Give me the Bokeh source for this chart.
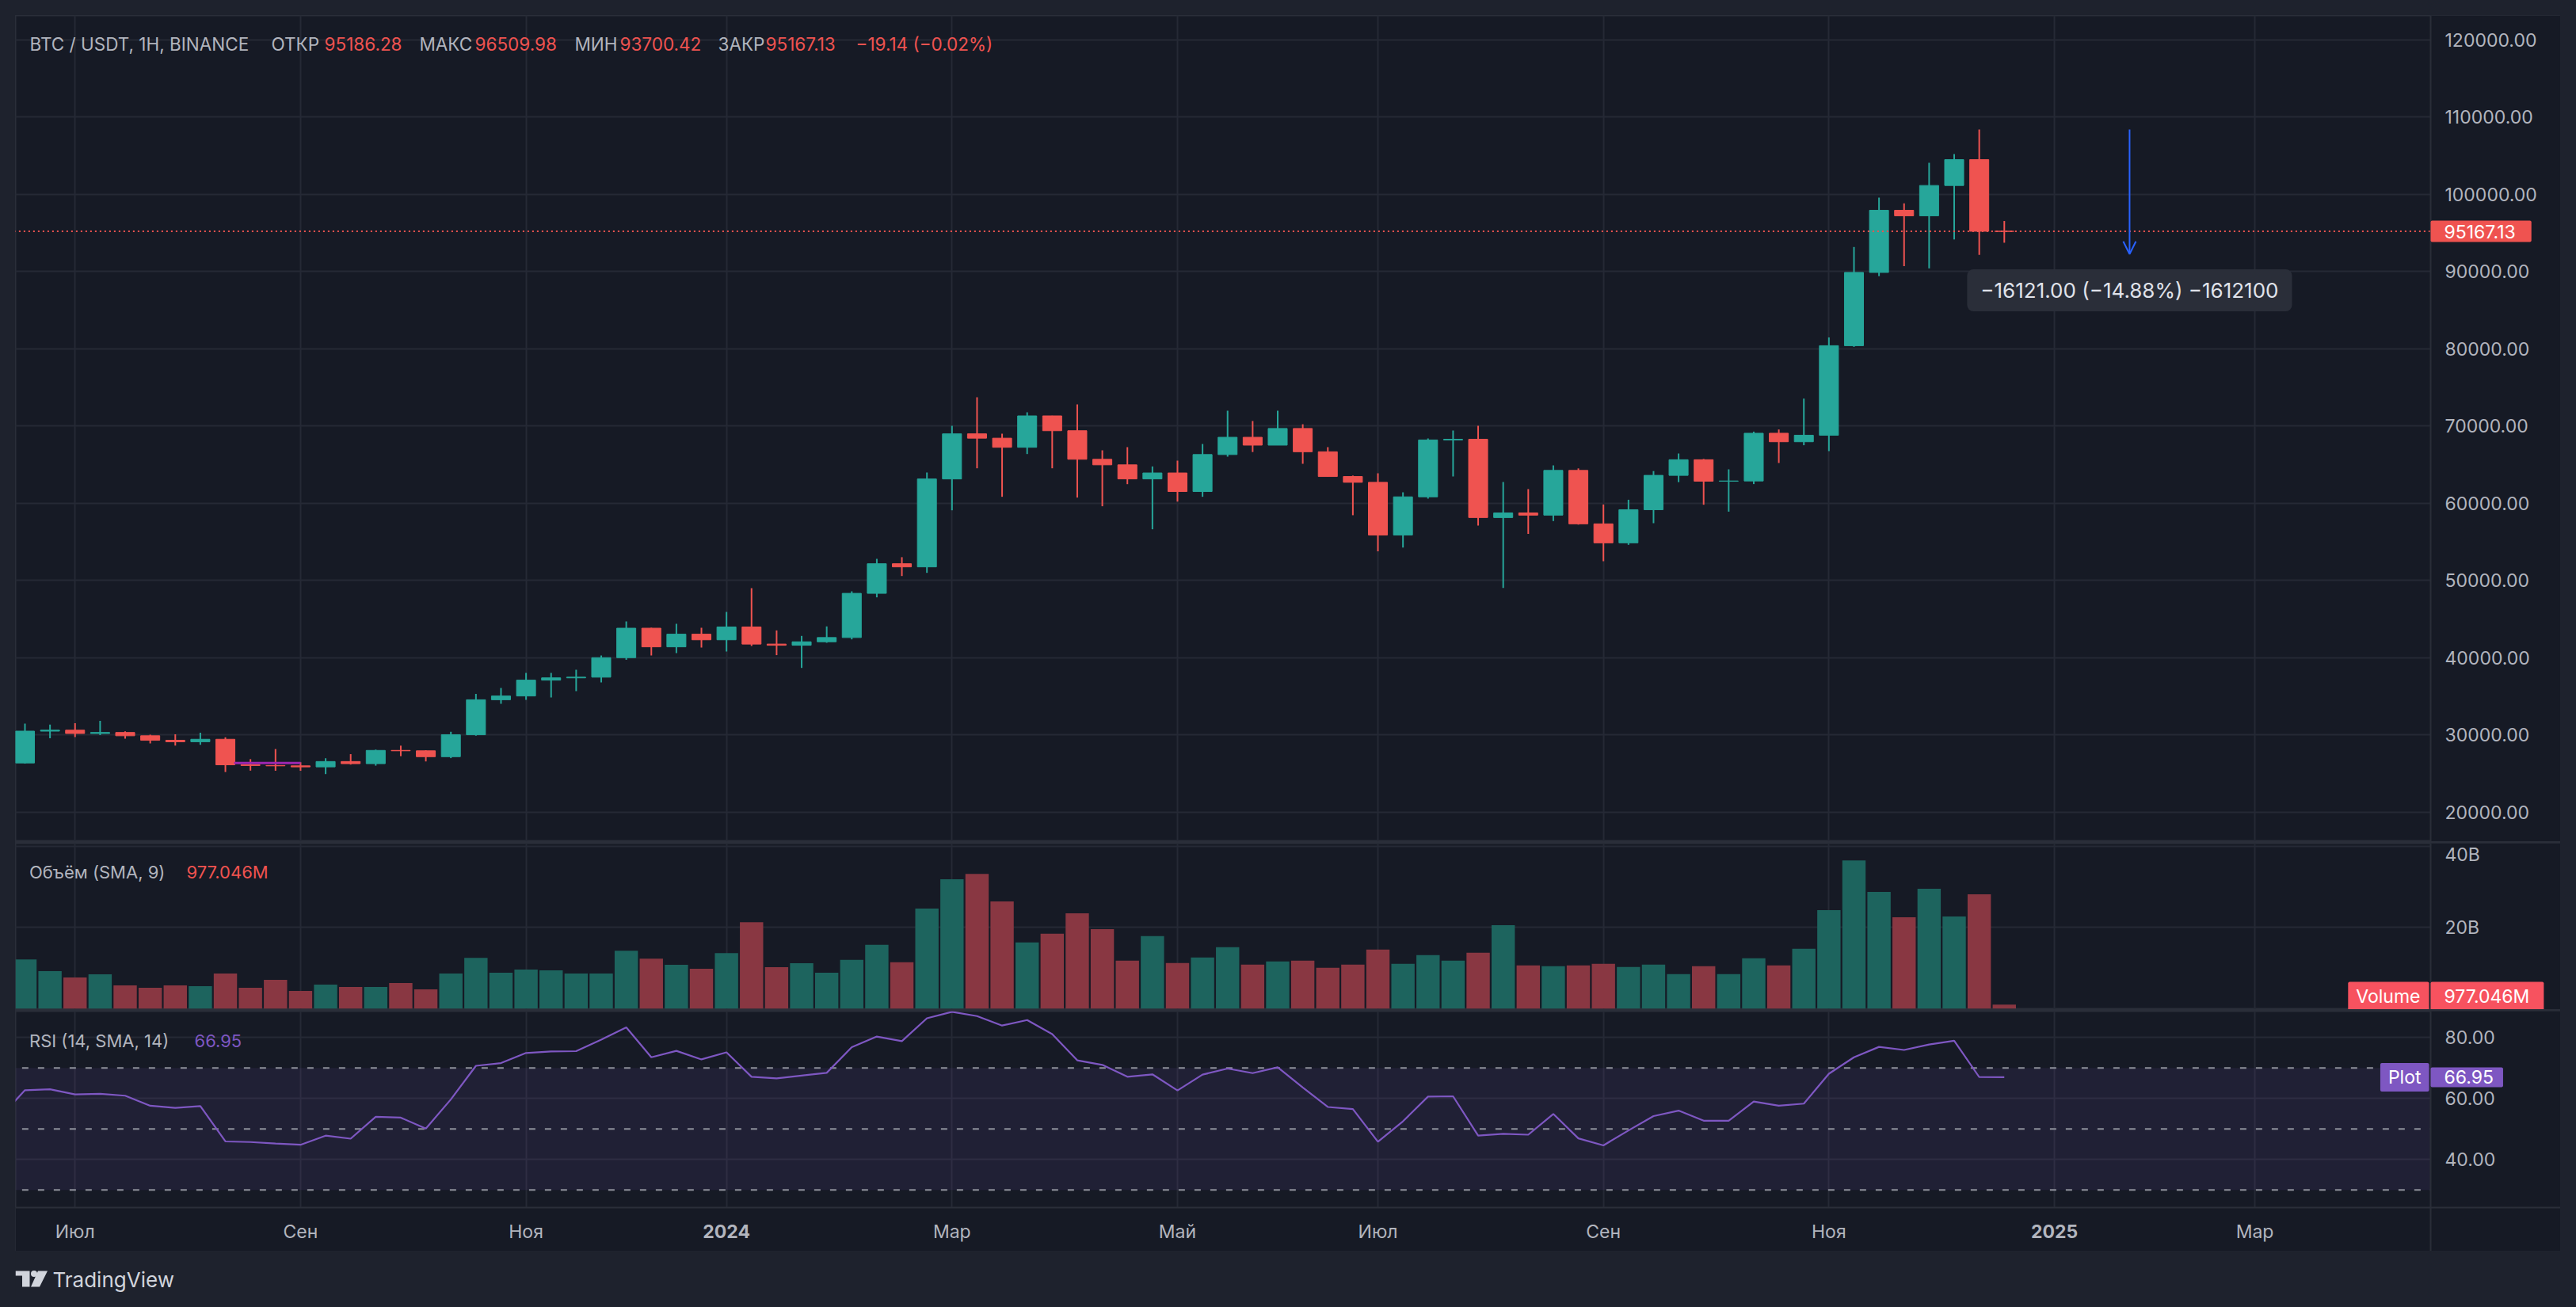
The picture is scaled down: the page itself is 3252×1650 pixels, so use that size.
from bokeh.plotting import figure
from bokeh.models import (Range1d, FixedTicker, Grid, Span, BoxAnnotation, Label, Arrow,
                          OpenHead, NumeralTickFormatter, ColumnDataSource)
from bokeh.layouts import column
from bokeh.embed import file_html
from bokeh.resources import INLINE
from bokeh.core.properties import value

# ---------------- data (weekly BTC/USDT, 19 Jun 2023 .. 23 Dec 2024) ----------------
opens = [26340, 30461, 30586, 30160, 30289, 29862, 29275, 29088, 29408, 26100,
         26010, 25969, 25832, 26527, 26250, 27969, 27917, 27152, 29993, 34525,
         35011, 37064, 37359, 37450, 39972, 43789, 41374, 43016, 42284, 43949,
         41732, 41580, 42030, 42580, 48300, 52137, 51728, 63113, 68955, 68393,
         67211, 71280, 69360, 65661, 64941, 63118, 63891, 61484, 66274, 68507,
         67491, 69648, 66636, 63430, 62678, 55857, 60797, 68165, 68250, 58116,
         58712, 58427, 64220, 57301, 54841, 59132, 63578, 65603, 62819, 62851,
         69032, 67929, 68775, 80370, 89855, 97900, 97185, 101109, 104463, 95186.28]
highs = [31432, 31300, 31500, 31804, 30440, 29988, 30048, 30244, 29660, 26833,
         28142, 26433, 26950, 27483, 28066, 28580, 27987, 30381, 35280, 36050,
         38000, 38000, 38410, 40256, 44667, 43846, 44359, 43846, 45897, 48974,
         43500, 42790, 44020, 48563, 52769, 52985, 63949, 69999, 73692, 68974,
         71744, 71300, 72769, 66821, 67231, 64734, 65487, 67641, 71949, 70615,
         71949, 70195, 67231, 63550, 63846, 61385, 68359, 69385, 70000, 62718,
         61800, 64872, 64481, 59810, 60420, 64133, 66410, 65700, 64359, 69241,
         69520, 73518, 81436, 93149, 99538, 98800, 104041, 105179, 108353, 96509.98]
lows = [26257, 29550, 29701, 29950, 29500, 28862, 28586, 28701, 25166, 25350,
        25333, 25331, 24901, 26130, 25990, 27219, 26538, 26965, 29870, 34000,
        34513, 34820, 35640, 36769, 39700, 40256, 40564, 41282, 40769, 41487,
        40300, 38646, 41900, 42342, 47783, 50544, 50954, 59056, 64495, 60803,
        66340, 64495, 60700, 59577, 62441, 56597, 60185, 60803, 66000, 66600,
        67538, 65077, 63400, 58418, 53743, 54231, 60564, 63436, 57077, 49000,
        56000, 57660, 57200, 52462, 54580, 57385, 62700, 59774, 58882, 62450,
        65180, 67478, 66718, 80216, 89376, 90667, 90380, 94123, 92128, 93700.42]
closes = [30461, 30586, 30160, 30289, 29862, 29275, 29088, 29408, 26100, 26010,
          25969, 25832, 26527, 26250, 27969, 27917, 27152, 29993, 34525, 35011,
          37064, 37359, 37450, 39972, 43789, 41374, 43016, 42284, 43949, 41732,
          41580, 42030, 42580, 48300, 52137, 51728, 63113, 68955, 68393, 67211,
          71280, 69360, 65661, 64941, 63118, 63891, 61484, 66274, 68507, 67491,
          69648, 66636, 63430, 62678, 55857, 60797, 68165, 68250, 58116, 58712,
          58427, 64220, 57301, 54841, 59132, 63578, 65603, 62819, 62851, 69032,
          67929, 68775, 80370, 89855, 97900, 97185, 101109, 104463, 95186.27, 95167.13]
# weekly volume, billions USDT
volumes_b = [12.10, 9.18, 7.63, 8.41, 5.69, 5.11, 5.69, 5.50, 8.60, 5.11,
             7.05, 4.33, 5.88, 5.30, 5.30, 6.27, 4.72, 8.60, 12.49, 8.80,
             9.57, 9.38, 8.60, 8.60, 14.23, 12.29, 10.74, 9.77, 13.65, 21.22,
             10.16, 11.13, 8.80, 12.00, 15.67, 11.40, 24.60, 31.79, 33.14, 26.35,
             16.25, 18.39, 23.44, 19.55, 11.79, 17.81, 11.20, 12.56, 15.09, 10.82,
             11.59, 11.79, 10.04, 10.82, 14.50, 11.01, 13.15, 11.79, 13.73, 20.52,
             10.62, 10.43, 10.62, 11.01, 10.23, 10.82, 8.49, 10.43, 8.49, 12.37,
             10.62, 14.70, 24.21, 36.45, 28.68, 22.47, 29.46, 22.66, 28.10, 0.977046]
# RSI(14) values, first one belongs to the bar before the first visible bar
rsi_vals = [53.8,
            62.7, 63.0, 61.3, 61.5, 60.9, 57.6, 56.9, 57.5, 45.9, 45.7,
            45.2, 44.8, 47.8, 46.8, 54.0, 53.7, 50.1, 59.7, 70.7, 71.6,
            74.9, 75.4, 75.5, 79.3, 83.3, 73.5, 75.6, 72.8, 75.1, 67.1,
            66.6, 67.5, 68.4, 76.8, 80.3, 78.8, 86.3, 88.4, 87.0, 83.9,
            85.7, 81.1, 72.5, 71.0, 67.1, 67.9, 62.6, 67.8, 69.8, 68.3,
            70.2, 63.6, 57.2, 56.5, 45.8, 52.5, 60.6, 60.7, 47.8, 48.4,
            48.1, 54.9, 46.9, 44.6, 49.5, 54.2, 56.0, 52.7, 52.7, 59.0,
            57.6, 58.3, 68.1, 73.5, 76.9, 75.9, 77.7, 78.9, 67.0, 66.95]
month_ticks = [2, 11, 20, 28, 37, 46, 54, 63, 72, 81, 89]
month_labels = ["Июл", "Сен", "Ноя", "2024", "Мар", "Май", "Июл", "Сен", "Ноя", "2025", "Мар"]
price_ticks = [20000, 30000, 40000, 50000, 60000, 70000, 80000, 90000, 100000, 110000, 120000]
vol_ticks = [20, 40]
vol_tick_labels = ["20B", "40B"]
rsi_ticks = [40, 60, 80]
rsi_levels = [70, 50, 30]
drawn_line_x = [8.35, 11.0]
drawn_line_price = 26340
measure_bar = 84
measure_to = 92232

# ---------------- styling / layout ----------------
PANE = "#161a25"
OUTER = "#1e222d"
SEP = "#2a2e39"
GRID = "#252935"
TXT = "#b2b5be"
GREEN = "#26a69a"
RED = "#ef5350"
VOL_G = "#1d645e"
VOL_R = "#893742"
VOL_LBL = "#f7525f"
PURPLE = "#7e57c2"
BLUE = "#2962ff"
FONT = "Inter"

X0, DX = 31.0, 31.63          # page x of bar 0, bar spacing (px)
L, R, RR = 19, 3068, 3232      # frame left, pane/axis separator, outer right
P_TOP, P_BOT = 19, 1062
V_TOP, V_BOT = 1064, 1274
R_TOP, R_BOT, T_BOT = 1276, 1524, 1579

def ix(px):
    return (px - X0) / DX

def pp(py):
    return 120000 - (py - 49.5) / 97.5 * 10000

def pv(py):
    return (1272.7 - py) / 5.13

def pr(py):
    return 70 - (py - 1347.7) / 3.85

xr = Range1d(ix(L), ix(RR))
W = RR - L
AX_X = ix(R)          # data x of the price-axis column edge


def pad(left, right, top, bottom):
    return dict(left=left, right=right, top=top, bottom=bottom)


def base_fig(height, yr, yticks, xloc=None):
    f = figure(width=W, height=height, x_range=xr, y_range=yr,
               x_axis_location=xloc, y_axis_location="right",
               toolbar_location=None, output_backend="svg",
               min_border_left=0, min_border_right=0, min_border_top=0,
               min_border_bottom=0,
               background_fill_color=PANE, border_fill_color=PANE,
               outline_line_color=SEP, outline_line_width=2)
    f.grid.visible = False
    f.add_layout(Grid(dimension=0, ticker=FixedTicker(ticks=month_ticks),
                      grid_line_color=GRID, grid_line_width=2))
    f.add_layout(Grid(dimension=1, ticker=FixedTicker(ticks=yticks),
                      grid_line_color=GRID, grid_line_width=2))
    # axis column background (covers grid lines there)
    f.add_layout(BoxAnnotation(left=AX_X, fill_color=PANE, fill_alpha=1.0,
                               line_color=None, level="underlay"))
    ya = f.yaxis[0]
    ya.fixed_location = AX_X
    ya.ticker = FixedTicker(ticks=yticks)
    ya.axis_line_color = None
    ya.major_tick_line_color = None
    ya.minor_tick_line_color = None
    ya.major_tick_out = 0
    ya.minor_tick_out = 0
    ya.major_label_standoff = 18
    ya.major_label_text_font = FONT
    ya.major_label_text_font_size = "23px"
    ya.major_label_text_color = TXT
    return f


def sep_line(fig):
    fig.add_layout(Span(location=AX_X, dimension="height", line_color=SEP, line_width=2))


def text_label(fig, x, y, text, color, size="22px", **kw):
    lab = Label(x=x, y=y, text=text, text_color=color, text_font=FONT,
                text_font_size=size, text_baseline="middle", text_align="left", **kw)
    fig.add_layout(lab)
    return lab


def tag(fig, x, y, text, bg, align="left", padding=None):
    if padding is None:
        padding = pad(17, 20, 5, 5)
    fig.add_layout(Label(x=x, y=y, text=text, text_align=align, text_baseline="middle",
                         text_font=FONT, text_font_size="23px", text_color="#ffffff",
                         background_fill_color=bg, border_radius=2, padding=padding))

n = len(opens)
xs = list(range(n))
up = [c >= o for o, c in zip(opens, closes)]
src = ColumnDataSource(dict(
    x=xs, o=opens, h=highs, l=lows, c=closes,
    top=[max(o, c) for o, c in zip(opens, closes)],
    bottom=[min(o, c) for o, c in zip(opens, closes)],
    color=[GREEN if u else RED for u in up],
    vol=volumes_b,
    vcolor=[VOL_G if u else VOL_R for u in up],
))

# ---------------- price pane ----------------
p = base_fig(P_BOT - P_TOP, Range1d(pp(P_BOT), pp(P_TOP)), price_ticks)
p.yaxis.formatter = NumeralTickFormatter(format="0.00")

p.segment(x0="x", y0="l", x1="x", y1="h", line_color="color", line_width=2, source=src)
p.vbar(x="x", width=0.76, top="top", bottom="bottom", fill_color="color",
       line_color="color", line_width=1, source=src)
p.line(x=drawn_line_x, y=[drawn_line_price] * 2, line_color="#9c27b0", line_width=3)

last_price = closes[-1]
p.line(x=[ix(L) - 1, AX_X], y=[last_price, last_price], line_color=RED,
       line_dash="2 4", line_width=2)
sep_line(p)

m_from = highs[78]
d = measure_to - m_from
pct = d / m_from * 100
p.add_layout(Arrow(end=OpenHead(size=16, line_color=BLUE, line_width=2),
                   x_start=measure_bar, y_start=m_from, x_end=measure_bar, y_end=measure_to,
                   line_color=BLUE, line_width=2))
mtxt = "\u2212%.2f (\u2212%.2f%%) \u2212%d" % (abs(d), abs(pct), round(abs(d) * 100))
p.add_layout(Label(x=measure_bar, y=pp(366), text=mtxt, text_align="center",
                   text_baseline="middle", text_font=FONT, text_font_size="26px",
                   text_color="#e0e3eb", background_fill_color="#2a2e39",
                   border_radius=8, padding=pad(17, 17, 11, 11)))

tag(p, AX_X, last_price, "%.2f" % last_price, RED)

chg = closes[-1] - closes[-2]
chg_pct = chg / closes[-2] * 100
legend_y = pp(55)
pieces = [
    (37, "BTC / USDT, 1H, BINANCE", TXT),
    (342, "ОТКР", TXT), (409, "%.2f" % opens[-1], RED),
    (529, "МАКС", TXT), (599, "%.2f" % highs[-1], RED),
    (725, "МИН", TXT), (782, "%.2f" % lows[-1], RED),
    (906, "ЗАКР", TXT), (966, "%.2f" % closes[-1], RED),
    (1080, "\u2212%.2f (\u2212%.2f%%)" % (abs(chg), abs(chg_pct)), RED),
]
for px_, t, col in pieces:
    text_label(p, ix(px_), legend_y, t, col, size="22.5px")

# ---------------- volume pane ----------------
pvf = base_fig(V_BOT - V_TOP, Range1d(pv(V_BOT), pv(V_TOP)), vol_ticks)
pvf.yaxis.major_label_overrides = {t: s for t, s in zip(vol_ticks, vol_tick_labels)}
pvf.vbar(x="x", width=0.93, top="vol", bottom=0, fill_color="vcolor",
         line_color=None, source=src)
sep_line(pvf)
vol_txt = "%.3fM" % (volumes_b[-1] * 1000)
text_label(pvf, ix(36.5), pv(1100), "Объём (SMA, 9)", TXT)
text_label(pvf, ix(235), pv(1100), vol_txt, RED)
tag(pvf, ix(R - 2), pv(1257), "Volume", VOL_LBL, align="right", padding=pad(10, 11, 4, 4))
tag(pvf, AX_X, pv(1257), vol_txt, VOL_LBL, padding=pad(17, 18, 4, 4))

# ---------------- RSI pane (with time axis inside its frame) ----------------
prf = base_fig(T_BOT - R_TOP, Range1d(pr(T_BOT), pr(R_TOP)), rsi_ticks, xloc="below")
prf.yaxis.formatter = NumeralTickFormatter(format="0.00")
# time-axis strip background
prf.add_layout(BoxAnnotation(top=pr(R_BOT), fill_color=PANE, fill_alpha=1.0,
                             line_color=None, level="underlay"))
prf.add_layout(BoxAnnotation(bottom=min(rsi_levels), top=max(rsi_levels), right=AX_X,
                             fill_color=PURPLE, fill_alpha=0.1, line_color=None,
                             level="underlay"))
for lv in rsi_levels:
    prf.line(x=[ix(L) - 1, AX_X], y=[lv, lv], line_color="#8d909a",
             line_dash="8 12", line_width=2)
prf.line(x=list(range(-1, n)), y=rsi_vals, line_color=PURPLE, line_width=2.2)
sep_line(prf)
prf.add_layout(Span(location=pr(R_BOT), dimension="width", line_color=SEP, line_width=2))

xa = prf.xaxis[0]
xa.fixed_location = pr(R_BOT)
xa.ticker = FixedTicker(ticks=month_ticks)
xa.major_label_overrides = {t: ("" if s.isdigit() else s) for t, s in zip(month_ticks, month_labels)}
xa.axis_line_color = None
xa.major_tick_line_color = None
xa.minor_tick_line_color = None
xa.major_tick_out = 0
xa.minor_tick_out = 0
xa.major_label_standoff = 16
xa.major_label_text_font = FONT
xa.major_label_text_font_size = "23px"
xa.major_label_text_color = TXT
for t, s in zip(month_ticks, month_labels):
    if s.isdigit():
        prf.add_layout(Label(x=t, y=pr(1554), text=s, text_align="center",
                             text_baseline="middle", text_font=FONT,
                             text_font_size="23px", text_font_style="bold",
                             text_color=TXT))

rsi_txt = "%.2f" % rsi_vals[-1]
text_label(prf, ix(36.5), pr(1313), "RSI (14, SMA, 14)", TXT)
text_label(prf, ix(245), pr(1313), rsi_txt, PURPLE)
tag(prf, ix(R - 2), rsi_vals[-1], "Plot", PURPLE, align="right", padding=pad(10, 10, 4, 4))
tag(prf, AX_X, rsi_vals[-1], rsi_txt, PURPLE, padding=pad(17, 12, 4, 4))

# ---------------- footer with logo ----------------
foot = figure(width=W, height=58, x_range=Range1d(L, RR), y_range=Range1d(1639, 1581),
              x_axis_location=None, y_axis_location=None, toolbar_location=None,
              output_backend="svg", min_border=0, background_fill_color=OUTER,
              border_fill_color=OUTER, outline_line_color=None)
foot.grid.visible = False
LOGO = "#d1d4dc"
foot.patch(x=[19, 37, 37, 27.5, 27.5, 19], y=[1604, 1604, 1624, 1624, 1610, 1610],
           fill_color=LOGO, line_color=None)
foot.scatter(x=[42.5], y=[1607.5], size=8, marker="circle", fill_color=LOGO, line_color=None)
foot.patch(x=[47.5, 59.5, 49.5, 38.5], y=[1604, 1604, 1624, 1624],
           fill_color=LOGO, line_color=None)
foot.text(x=[66], y=[1615], text=["TradingView"], text_font=value(FONT),
          text_font_size="26px", text_baseline="middle", text_color=LOGO)

inner = column(p, pvf, prf, spacing=2, styles={"background-color": SEP})
page = column(inner, foot, spacing=2)

html = file_html(page, INLINE, title="BTC / USDT")
html = html.replace("</head>",
                    "<style>html,body{background-color:#1e222d;}"
                    "body{margin:19px 0 0 19px;}</style></head>", 1)
open("out.html", "w").write(html)
